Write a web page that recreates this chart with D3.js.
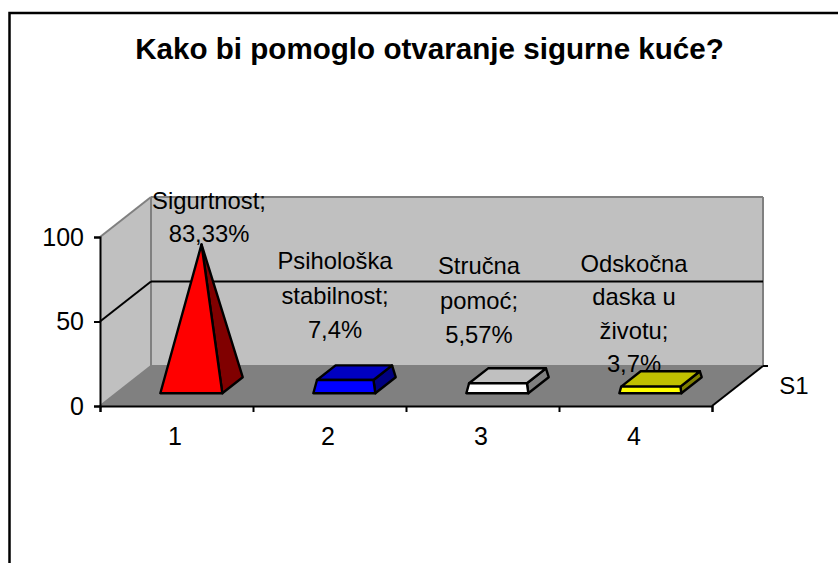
<!DOCTYPE html>
<html>
<head>
<meta charset="utf-8">
<script src="https://cdn.jsdelivr.net/npm/d3@7"></script>
<style>
  html, body { margin: 0; padding: 0; background: #fff; overflow: hidden; }
  text { font-family: "Liberation Sans", Arial, sans-serif; fill: #000; }
</style>
</head>
<body>
<script>
// data
var categories = [1, 2, 3, 4];
var values = [83.33, 7.4, 5.57, 3.7];
var labelLines = [
  ["Sigurtnost;", "83,33%"],
  ["Psihološka", "stabilnost;", "7,4%"],
  ["Stručna", "pomoć;", "5,57%"],
  ["Odskočna", "daska u", "životu;", "3,7%"]
];
var yTicks = [0, 50, 100];
var seriesName = "S1";
var title = "Kako bi pomoglo otvaranje sigurne kuće?";
var frontColors = ["#ff0000", "#0000ff", "#ffffff", "#ffff00"];
var topColors = ["#c00000", "#0000c0", "#c0c0c0", "#c0c000"];
var sideColors = ["#800000", "#000080", "#808080", "#808000"];

var w = 838;
var h = 563;
var depthX = 51;
var depthY = 40;

var svg = d3.select("body")
  .append("svg")
  .attr("width", w)
  .attr("height", h)
  .style("display", "block");

// outer frame runs off the right and bottom of the picture
svg.append("rect")
  .attr("x", 9.5).attr("y", 13)
  .attr("width", w).attr("height", h)
  .attr("fill", "#fff").attr("stroke", "#000").attr("stroke-width", 2.5);

svg.append("text")
  .attr("x", 429.5).attr("y", 59)
  .attr("text-anchor", "middle")
  .attr("font-size", 29.6).attr("font-weight", "bold")
  .text(title);

var y = d3.scaleLinear().domain([0, 100]).range([406, 237]);
var xEdge = d3.scaleLinear().domain([0, 4]).range([100, 712]);
var x = d3.scaleBand().domain(categories).range([98.5, 710.5]).paddingInner(0.595).paddingOuter(0.2975);

// oblique projection: z 0 is the front of the floor, z 1 the back wall
function proj(px, v, z) {
  return [px + z * depthX, y(v) - z * depthY];
}
function poly(points, fill, stroke, sw) {
  svg.append("path")
    .attr("d", d3.line()(points) + "Z")
    .attr("fill", fill)
    .attr("stroke", stroke || "none")
    .attr("stroke-width", sw || 0)
    .attr("stroke-linejoin", "round");
}

var x0 = xEdge(0), x1 = xEdge(4);

// walls and floor
poly([proj(x0, 0, 0), proj(x0, 100, 0), proj(x0, 100, 1), proj(x0, 0, 1)], "#c0c0c0");
poly([proj(x0, 0, 1), proj(x0, 100, 1), proj(x1, 100, 1), proj(x1, 0, 1)], "#c0c0c0");
poly([proj(x0, 0, 0), proj(x0, 0, 1), proj(x1, 0, 1), proj(x1, 0, 0)], "#808080");

function edge(a, b, color, sw) {
  svg.append("path")
    .attr("d", d3.line()([a, b]))
    .attr("fill", "none")
    .attr("stroke", color)
    .attr("stroke-width", sw);
}
edge(proj(x0, 100, 0), proj(x0, 100, 1), "#808080", 2);
edge(proj(x0, 100, 1), proj(x1, 100, 1), "#808080", 2);
edge(proj(x1, 100, 1), proj(x1, 0, 1), "#808080", 2);
edge(proj(x0, 100, 1), proj(x0, 0, 1), "#808080", 2);
edge(proj(x0, 0, 0), proj(x0, 0, 1), "#808080", 2);
edge(proj(x0, 0, 1), proj(x1, 0, 1), "#808080", 2);

// gridline at 50 on both walls
edge(proj(x0, 50, 0), proj(x0, 50, 1), "#000", 2);
edge(proj(x0, 50, 1), proj(x1, 50, 1), "#000", 2);

// axes
var yAxis = d3.axisLeft(y).tickValues(yTicks).tickSize(6).tickPadding(10);
var gy = svg.append("g").attr("transform", "translate(" + x0 + ",0)").call(yAxis);
var gx = svg.append("g").attr("transform", "translate(0,406)")
  .call(d3.axisBottom(xEdge).ticks(4).tickSize(6).tickFormat(""));
var gl = svg.append("g").attr("transform", "translate(0,406)")
  .call(d3.axisBottom(x).tickSize(0).tickPadding(21));
gl.select(".domain").remove();
[gy, gx].forEach(function(g) {
  g.selectAll(".domain").attr("stroke", "#000").attr("stroke-width", 2);
  g.selectAll("line").attr("stroke", "#000").attr("stroke-width", 2);
});
[gy, gl].forEach(function(g) {
  g.selectAll("text").attr("font-size", 25).attr("font-family", "Liberation Sans").attr("fill", "#000");
});

// depth axis with the series name
edge(proj(x1, 0, 0), proj(x1, 0, 1), "#000", 2);
edge(proj(x1, 0, 1), [proj(x1, 0, 1)[0] + 5, proj(x1, 0, 1)[1]], "#000", 2);
svg.append("text").attr("x", 794).attr("y", 394)
  .attr("text-anchor", "middle").attr("font-size", 24).text(seriesName);

// data labels sit under the bars
var labelDx = [34, 7, -2, 0];
var labelBase = [242, 338, 343, 372];
var lineGap = [33, 34.5, 34.5, 33.3];
labelLines.forEach(function(lines, i) {
  var cx = x(categories[i]) + x.bandwidth() / 2 + labelDx[i];
  lines.forEach(function(t, j) {
    svg.append("text")
      .attr("x", cx)
      .attr("y", labelBase[i] - (lines.length - 1 - j) * lineGap[i])
      .attr("text-anchor", "middle")
      .attr("font-size", 23.8)
      .text(t);
  });
});

// pyramids, cut off at the value; the full height belongs to the largest value
var zFront = 0.32, zBack = 0.72;
var peak = d3.max(values);
categories.forEach(function(c, i) {
  var xl = x(c), xr = xl + x.bandwidth();
  var xm = (xl + xr) / 2, zm = (zFront + zBack) / 2;
  var f = values[i] / peak;
  function top(px, z) {
    return proj(px + (xm - px) * f, values[i], z + (zm - z) * f);
  }
  var fl = proj(xl, 0, zFront), fr = proj(xr, 0, zFront), br = proj(xr, 0, zBack);
  var tfl = top(xl, zFront), tfr = top(xr, zFront), tbr = top(xr, zBack), tbl = top(xl, zBack);
  poly([fr, br, tbr, tfr], sideColors[i], "#000", 2.4);
  poly([tfl, tfr, tbr, tbl], topColors[i], "#000", 2.4);
  poly([fl, fr, tfr, tfl], frontColors[i], "#000", 2.4);
});
</script>
</body>
</html>
